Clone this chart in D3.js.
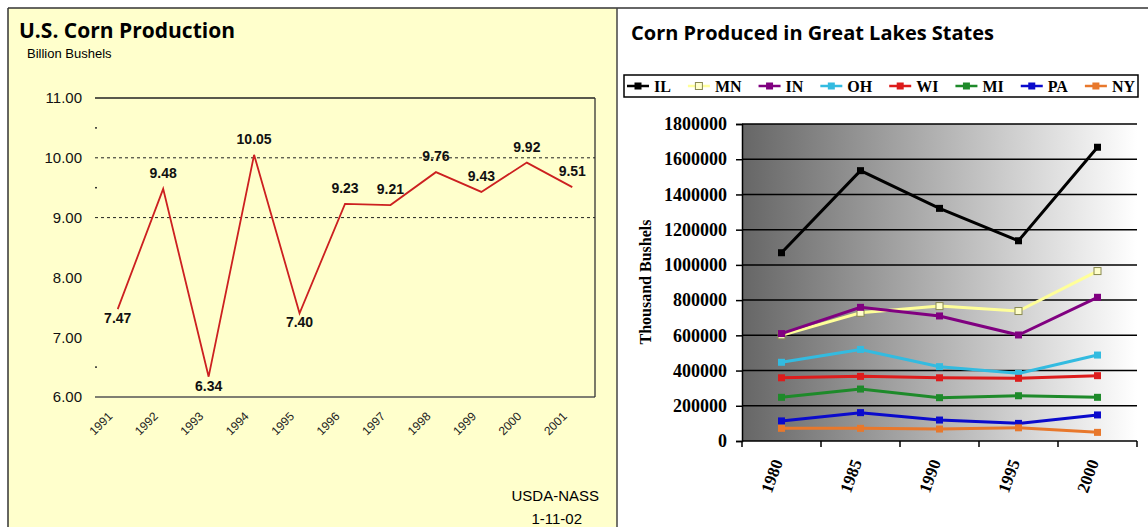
<!DOCTYPE html>
<html>
<head>
<meta charset="utf-8">
<title>Corn Production</title>
<script src="https://cdn.jsdelivr.net/npm/d3@7"></script>
<style>
  body { margin: 0; background: #fff; }
  svg { display: block; }
  .sans { font-family: "Liberation Sans", Arial, sans-serif; }
  .serif { font-family: "Liberation Serif", "Times New Roman", serif; font-weight: bold; }
</style>
</head>
<body>
<script>
// U.S. corn production, billion bushels
var years = ["1991", "1992", "1993", "1994", "1995", "1996", "1997", "1998", "1999", "2000", "2001"];
var usBushels = [7.47, 9.48, 6.34, 10.05, 7.40, 9.23, 9.21, 9.76, 9.43, 9.92, 9.51];
var usTicks = [6, 7, 8, 9, 10, 11];
var usMinor = [10.5, 9.5, 6.5];
var usDashed = [9, 10];

// Great Lakes states, thousand bushels
var lakeYears = ["1980", "1985", "1990", "1995", "2000"];
var states = ["IL", "MN", "IN", "OH", "WI", "MI", "PA", "NY"];
var IL = [1069000, 1535000, 1321000, 1137000, 1668000];
var MN = [600000, 728000, 766000, 738000, 965000];
var IN = [610000, 759000, 710000, 602000, 816000];
var OH = [447000, 520000, 422000, 384000, 488000];
var WI = [359000, 367000, 359000, 356000, 371000];
var MI = [248000, 295000, 246000, 257000, 248000];
var PA = [114000, 161000, 119000, 100000, 148000];
var NY = [72000, 72000, 68000, 75000, 49000];
var lakeTicks = [0, 200000, 400000, 600000, 800000, 1000000, 1200000, 1400000, 1600000, 1800000];

var seriesValues = [IL, MN, IN, OH, WI, MI, PA, NY];
var colors = ["#000000", "#ffff99", "#800080", "#33bbe0", "#dd1c1c", "#1e8a2a", "#0a0acc", "#e8782c"];

var W = 1148, H = 527;
var svg = d3.select("body").append("svg")
  .attr("width", W)
  .attr("height", H);

// ---------- left panel ----------
svg.append("rect")
  .attr("x", 8).attr("y", 8)
  .attr("width", 609).attr("height", H)
  .attr("fill", "#ffffcc");
svg.append("line").attr("x1", 8).attr("x2", 8).attr("y1", 8).attr("y2", H)
  .attr("stroke", "#333").attr("stroke-width", 1.5);
svg.append("line").attr("x1", 8).attr("x2", W).attr("y1", 8).attr("y2", 8)
  .attr("stroke", "#333").attr("stroke-width", 1.5);
svg.append("line").attr("x1", 617).attr("x2", 617).attr("y1", 8).attr("y2", H)
  .attr("stroke", "#444").attr("stroke-width", 1.5);

svg.append("text")
  .attr("x", 19).attr("y", 38)
  .style("font-family", "'Open Sans', sans-serif")
  .style("font-weight", "bold")
  .style("font-size", "21px")
  .text("U.S. Corn Production");
svg.append("text")
  .attr("class", "sans")
  .attr("x", 27).attr("y", 58)
  .style("font-size", "13px")
  .text("Billion Bushels");

var x1 = d3.scalePoint().domain(years).range([95, 595]).padding(0.5);
var y1 = d3.scaleLinear().domain([6, 11]).range([397, 98]);

var left = svg.append("g");

// frame: solid top/bottom, right side
left.append("line").attr("x1", 95).attr("x2", 595).attr("y1", y1(11)).attr("y2", y1(11))
  .attr("stroke", "#222").attr("stroke-width", 1.3);
left.append("line").attr("x1", 95).attr("x2", 595).attr("y1", y1(6)).attr("y2", y1(6))
  .attr("stroke", "#555").attr("stroke-width", 1.6);
left.append("line").attr("x1", 595).attr("x2", 595).attr("y1", y1(11)).attr("y2", y1(6))
  .attr("stroke", "#333").attr("stroke-width", 1.3);

left.selectAll(".dash")
  .data(usDashed)
  .enter().append("line")
  .attr("x1", 95).attr("x2", 595)
  .attr("y1", function(d) { return y1(d); })
  .attr("y2", function(d) { return y1(d); })
  .attr("stroke", "#222")
  .attr("stroke-dasharray", "3,3");

left.selectAll(".minor")
  .data(usMinor)
  .enter().append("rect")
  .attr("x", 95).attr("width", 2).attr("height", 1.5)
  .attr("y", function(d) { return y1(d) - 0.75; })
  .attr("fill", "#333");

var yAxis1 = left.append("g")
  .attr("class", "sans")
  .attr("transform", "translate(95,0)")
  .call(d3.axisLeft(y1).tickValues(usTicks).tickSize(0).tickPadding(13).tickFormat(d3.format(".2f")));
yAxis1.select(".domain").remove();
yAxis1.selectAll("text").style("font-size", "15px").style("font-family", "'Liberation Sans', Arial, sans-serif").attr("fill", "#111");

var xAxis1 = left.append("g")
  .attr("transform", "translate(0,397)")
  .call(d3.axisBottom(x1).tickSize(0));
xAxis1.select(".domain").remove();
xAxis1.selectAll("text")
  .style("font-family", "'Liberation Sans', Arial, sans-serif")
  .style("font-size", "12px")
  .attr("fill", "#222")
  .attr("y", 0).attr("dy", 0)
  .attr("transform", "translate(-5,20) rotate(-45)")
  .style("text-anchor", "end");

left.append("path")
  .datum(usBushels)
  .attr("fill", "none")
  .attr("stroke", "#cc2020")
  .attr("stroke-width", 1.8)
  .attr("d", d3.line()
    .x(function(d, i) { return x1(years[i]); })
    .y(function(d) { return y1(d); }));

left.selectAll(".vlab")
  .data(usBushels)
  .enter().append("text")
  .attr("class", "sans")
  .attr("x", function(d, i) { return x1(years[i]); })
  .attr("y", function(d) { return d < 8 ? y1(d) + 14 : y1(d) - 11; })
  .attr("text-anchor", "middle")
  .style("font-size", "14px")
  .style("font-weight", "bold")
  .attr("fill", "#111")
  .text(function(d) { return d3.format(".2f")(d); });

svg.append("text").attr("class", "sans")
  .attr("x", 599).attr("y", 501).attr("text-anchor", "end")
  .style("font-size", "15px").text("USDA-NASS");
svg.append("text").attr("class", "sans")
  .attr("x", 582).attr("y", 524).attr("text-anchor", "end")
  .style("font-size", "15px").text("1-11-02");

// ---------- right panel ----------
svg.append("text")
  .attr("x", 631).attr("y", 40)
  .style("font-family", "'Open Sans', sans-serif")
  .style("font-weight", "bold")
  .style("font-size", "20px")
  .text("Corn Produced in Great Lakes States");

var x2 = d3.scaleBand().domain(lakeYears).range([742, 1137]).padding(0);
var y2 = d3.scaleLinear().domain([0, 1800000]).range([441, 124]);

var defs = svg.append("defs");
var grad = defs.append("linearGradient").attr("id", "bg").attr("x1", "0").attr("x2", "1").attr("y1", "0").attr("y2", "0");
grad.append("stop").attr("offset", "0").attr("stop-color", "#666666");
grad.append("stop").attr("offset", "1").attr("stop-color", "#ffffff");

var right = svg.append("g");
right.append("rect")
  .attr("x", 742).attr("y", y2(1800000))
  .attr("width", 1137 - 742).attr("height", y2(0) - y2(1800000))
  .attr("fill", "url(#bg)");

right.selectAll(".grid")
  .data(lakeTicks.slice(1))
  .enter().append("line")
  .attr("x1", 742).attr("x2", 1137)
  .attr("y1", function(d) { return y2(d); })
  .attr("y2", function(d) { return y2(d); })
  .attr("stroke", "#000")
  .attr("stroke-width", 1.5);

var yAxis2 = right.append("g")
  .attr("class", "serif")
  .attr("transform", "translate(742,0)")
  .call(d3.axisLeft(y2).tickValues(lakeTicks).tickSize(6).tickPadding(9).tickFormat(d3.format("d")));
yAxis2.selectAll("text").style("font-size", "18px").style("font-family", "'Liberation Serif', serif").style("font-weight", "bold").attr("fill", "#000");
yAxis2.selectAll("line").attr("stroke", "#000").attr("stroke-width", 1.5);
yAxis2.select(".domain").attr("stroke", "#000").attr("stroke-width", 1.5);

// category axis: ticks between the years
var xAxis2 = right.append("g").attr("transform", "translate(0,441)");
xAxis2.append("line").attr("x1", 742).attr("x2", 1137).attr("stroke", "#000").attr("stroke-width", 1.5);
xAxis2.selectAll(".tk")
  .data(lakeYears.concat(["end"]))
  .enter().append("line")
  .attr("x1", function(d) { return d === "end" ? x2.range()[1] : x2(d); })
  .attr("x2", function(d) { return d === "end" ? x2.range()[1] : x2(d); })
  .attr("y1", 0).attr("y2", 6)
  .attr("stroke", "#000").attr("stroke-width", 1.5);
xAxis2.selectAll(".yl")
  .data(lakeYears)
  .enter().append("text")
  .attr("class", "serif")
  .attr("transform", function(d) { return "translate(" + (x2(d) + x2.bandwidth() / 2 - 4) + ",19) rotate(-70)"; })
  .attr("text-anchor", "end")
  .attr("dy", "0.35em")
  .style("font-size", "17px")
  .text(function(d) { return d; });

svg.append("text")
  .attr("class", "serif")
  .attr("transform", "translate(651,282) rotate(-90)")
  .attr("text-anchor", "middle")
  .style("font-size", "16px")
  .text("Thousand Bushels");

var line2 = d3.line()
  .x(function(d, i) { return x2(lakeYears[i]) + x2.bandwidth() / 2; })
  .y(function(d) { return y2(d); });

states.forEach(function(s, k) {
  var g = right.append("g");
  g.append("path")
    .datum(seriesValues[k])
    .attr("fill", "none")
    .attr("stroke", colors[k])
    .attr("stroke-width", 3)
    .attr("d", line2);
  g.selectAll("rect")
    .data(seriesValues[k])
    .enter().append("rect")
    .attr("x", function(d, i) { return x2(lakeYears[i]) + x2.bandwidth() / 2 - 3.5; })
    .attr("y", function(d) { return y2(d) - 3.5; })
    .attr("width", 7).attr("height", 7)
    .attr("fill", s === "MN" ? "#ffffcc" : colors[k])
    .attr("stroke", s === "MN" ? "#8a8a50" : "none")
    .attr("stroke-width", 1);
});

// legend
var lg = svg.append("g");
var boxX = 624, boxY = 75, boxW = 514, boxH = 22;
lg.append("rect")
  .attr("x", boxX).attr("y", boxY).attr("width", boxW).attr("height", boxH)
  .attr("fill", "#fff").attr("stroke", "#000").attr("stroke-width", 1.5);

var items = lg.selectAll(".it").data(states).enter().append("g");
items.append("text")
  .attr("class", "serif")
  .style("font-size", "16px")
  .attr("dy", "0.35em")
  .text(function(d) { return d; });
var widths = [];
items.selectAll("text").each(function() { widths.push(this.getComputedTextLength()); });
var lineW = 22, gapT = 5;
var used = d3.sum(widths) + states.length * (lineW + gapT);
var gap = (boxW - 6 - used) / (states.length - 1);
var cx = boxX + 3, cy = boxY + boxH / 2;
items.each(function(d, k) {
  var it = d3.select(this);
  it.attr("transform", "translate(" + cx + "," + cy + ")");
  it.insert("line", "text")
    .attr("x1", 0).attr("x2", lineW)
    .attr("stroke", d === "MN" ? "#ffff99" : colors[k])
    .attr("stroke-width", 2.5);
  it.insert("rect", "text")
    .attr("x", lineW / 2 - 3.5).attr("y", -3.5)
    .attr("width", 7).attr("height", 7)
    .attr("fill", d === "MN" ? "#ffffcc" : colors[k])
    .attr("stroke", d === "MN" ? "#8a8a50" : "none");
  it.select("text").attr("x", lineW + gapT);
  cx += lineW + gapT + widths[k] + gap;
});
</script>
</body>
</html>
